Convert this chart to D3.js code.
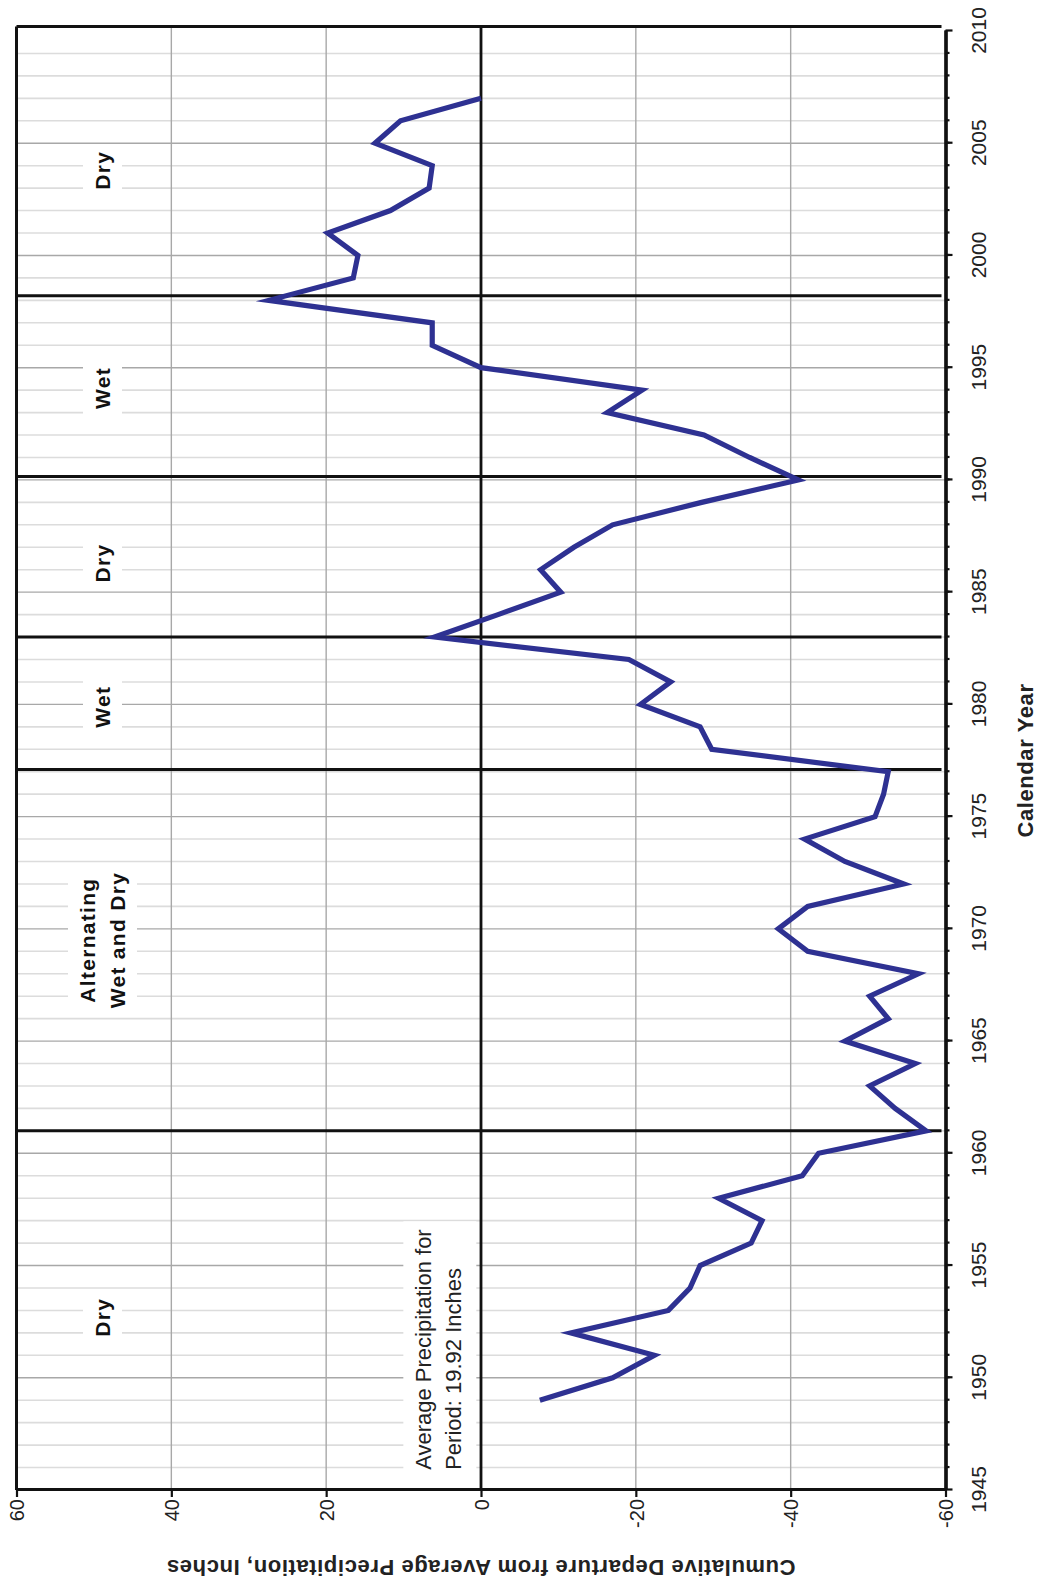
<!DOCTYPE html>
<html><head><meta charset="utf-8">
<script src="https://cdn.jsdelivr.net/npm/d3@7"></script>
<style>
html,body{margin:0;padding:0;background:#fff;}
svg{display:block;font-family:"Liberation Sans",Arial,Helvetica,sans-serif;}
</style></head><body>
<svg id="chart" width="1038" height="1585"></svg>
<script>
// ---------------- data ----------------
const years = [1949,1950,1951,1952,1953,1954,1955,1956,1957,1958,1959,1960,
  1961,1962,1963,1964,1965,1966,1967,1968,1969,1970,1971,1972,1973,1974,1975,1976,1977,
  1978,1979,1980,1981,1982,1983,1984,1985,1986,1987,1988,1989,1990,
  1991,1992,1993,1994,1995,1996,1997,1998,1999,2000,2001,2002,2003,2004,2005,2006,2007];
const departure = [-7.6,-17.0,-22.4,-11.6,-24.2,-27.0,-28.3,-34.9,-36.3,-30.7,-41.5,-43.6,
  -57.5,-53.5,-50.2,-56.1,-47.0,-52.6,-50.2,-56.5,-42.2,-38.4,-42.2,-54.6,-47.0,-41.8,-50.9,-52.0,-52.6,
  -29.8,-28.3,-20.6,-24.5,-19.1,6.0,-2.2,-10.3,-7.7,-12.0,-17.0,-28.5,-41.0,
  -34.7,-28.8,-16.3,-20.8,0.0,6.3,6.3,27.4,16.5,15.9,19.8,11.7,6.7,6.3,13.7,10.4,0.0];

const yearTicks = [1945,1950,1955,1960,1965,1970,1975,1980,1985,1990,1995,2000,2005,2010];
const yearTickLabels = ["1945","1950","1955","1960","1965","1970","1975","1980","1985","1990","1995","2000","2005","2010"];
const valueTicks = [60,40,20,0,-20,-40,-60];
const valueTickLabels = ["60","40","20","0","-20","-40","-60"];
const valueGrid = [40,20,-20,-40];

const periodBoundaries = [1961,1977.1,1983,1990.15,1998.2];
const frameEndYear = 2010.2;
const periodLabelYears = [1952.7,1969.5,1979.9,1986.3,1994.1,2003.8];
const periodLabelTexts = [["Dry"],["Alternating","Wet and Dry"],["Wet"],["Dry"],["Wet"],["Dry"]];
const periodLabelValue = 48.9;

const noteLines = ["Average Precipitation for","Period: 19.92 Inches"];
const noteYear = 1945.9;
const noteValue = 5.5;

const xTitle = "Calendar Year";
const yTitle = "Cumulative Departure from Average Precipitation, Inches";

// ---------------- layout ----------------
const X0 = 16.5, Y0 = 1490, W = 1459, H = 929;
const svg = d3.select("#chart");
svg.append("rect").attr("width",1038).attr("height",1585).attr("fill","#fff");

// whole chart drawn in its original orientation, then turned a quarter turn
const g = svg.append("g").attr("transform",`translate(${X0},${Y0}) rotate(-90)`);

const x = d3.scaleLinear().domain([1945,2010]).range([0,W]);
const y = d3.scaleLinear().domain([60,-60]).range([0,H]);

const minorYears = d3.range(1946,2010);
const majorSet = new Set(yearTicks);

// gridlines
g.append("g").selectAll("line").data(minorYears.filter(d=>!majorSet.has(d))).join("line")
  .attr("x1",d=>x(d)).attr("x2",d=>x(d)).attr("y1",0).attr("y2",H)
  .attr("stroke","#dcdcdc").attr("stroke-width",1.6);
g.append("g").selectAll("line").data(yearTicks.filter(d=>d>1945&&d<2010)).join("line")
  .attr("x1",d=>x(d)).attr("x2",d=>x(d)).attr("y1",0).attr("y2",H)
  .attr("stroke","#a8a8a8").attr("stroke-width",1.4);
g.append("g").selectAll("line").data(valueGrid).join("line")
  .attr("x1",0).attr("x2",x(frameEndYear)).attr("y1",d=>y(d)).attr("y2",d=>y(d))
  .attr("stroke","#a8a8a8").attr("stroke-width",1.4);

const boxLayer = g.append("g");
const lineLayer = g.append("g");
const dataLayer = g.append("g");
const textLayer = g.append("g");

// zero line, period lines, frame
lineLayer.append("line").attr("x1",0).attr("x2",x(frameEndYear)).attr("y1",y(0)).attr("y2",y(0))
  .attr("stroke","#111").attr("stroke-width",2.8);
lineLayer.selectAll("line.period").data(periodBoundaries.concat([frameEndYear])).join("line")
  .attr("class","period")
  .attr("x1",d=>x(d)).attr("x2",d=>x(d)).attr("y1",0).attr("y2",H-4)
  .attr("stroke","#111").attr("stroke-width",3);
lineLayer.append("line").attr("x1",0).attr("x2",x(frameEndYear)).attr("y1",0).attr("y2",0)
  .attr("stroke","#111").attr("stroke-width",3);

// axes
const xMinorAxis = d3.axisBottom(x).tickValues(minorYears).tickSize(4).tickSizeOuter(0).tickFormat("");
const xAxis = d3.axisBottom(x).tickValues(yearTicks).tickSize(7).tickSizeOuter(0).tickPadding(19)
  .tickFormat((d,i)=>yearTickLabels[i]);
const yAxis = d3.axisLeft(y).tickValues(valueTicks).tickSize(7).tickSizeOuter(0).tickPadding(2)
  .tickFormat((d,i)=>valueTickLabels[i]);

const gxm = lineLayer.append("g").attr("transform",`translate(0,${H})`).call(xMinorAxis);
const gx = lineLayer.append("g").attr("transform",`translate(0,${H})`).call(xAxis);
const gy = lineLayer.append("g").call(yAxis);
[gxm,gx,gy].forEach(a=>{
  a.select(".domain").attr("stroke","#111").attr("stroke-width",3.2);
  a.selectAll(".tick line").attr("stroke","#111").attr("stroke-width",2.2);
  a.selectAll(".tick text").attr("fill","#222").attr("font-size",20)
    .attr("font-family","'Liberation Sans',Arial,sans-serif");
});
gx.selectAll(".tick text").attr("font-size",21);
gy.selectAll(".tick text").attr("dy","0.36em");

// data line
dataLayer.append("path")
  .datum(years.map((yr,i)=>({year:yr,value:departure[i]})))
  .attr("d",d3.line().x(d=>x(d.year)).y(d=>y(d.value)))
  .attr("fill","none").attr("stroke","#2e3192").attr("stroke-width",5.2)
  .attr("stroke-linejoin","miter").attr("stroke-miterlimit",10);

// period labels
periodLabelYears.forEach((yr,i)=>{
  const lines = periodLabelTexts[i];
  const t = textLayer.append("text")
    .attr("text-anchor","middle").attr("font-weight","bold").attr("font-size",21)
    .attr("letter-spacing","1.3px").attr("fill","#111");
  lines.forEach((ln,j)=>{
    t.append("tspan").attr("x",x(yr)).attr("y",y(periodLabelValue)+(j-(lines.length-1)/2)*30)
      .attr("dy","0.36em").text(ln);
  });
  const b = t.node().getBBox();
  boxLayer.append("rect").attr("x",b.x-6).attr("y",b.y-8).attr("width",b.width+12).attr("height",b.height+16)
    .attr("fill","#fff");
});

// note
const note = textLayer.append("text").attr("font-size",22).attr("fill","#222");
noteLines.forEach((ln,j)=>{
  note.append("tspan").attr("x",x(noteYear)).attr("y",y(noteValue)+(j-0.5)*30)
    .attr("dy","0.36em").text(ln);
});
{
  const b = note.node().getBBox();
  boxLayer.append("rect").attr("x",b.x-8).attr("y",b.y-8).attr("width",b.width+16).attr("height",b.height+18)
    .attr("fill","#fff");
}

// titles
textLayer.append("text").attr("x",W/2).attr("y",H+80).attr("dy","0.36em")
  .attr("text-anchor","middle").attr("font-weight","bold").attr("font-size",22)
  .attr("letter-spacing","0.6px").attr("fill","#222").text(xTitle);
textLayer.append("text").attr("transform",`translate(-78,${H/2}) rotate(-90)`).attr("dy","0.36em")
  .attr("text-anchor","middle").attr("font-weight","bold").attr("font-size",22)
  .attr("letter-spacing","0.6px").attr("fill","#222").text(yTitle);
</script>
</body></html>
